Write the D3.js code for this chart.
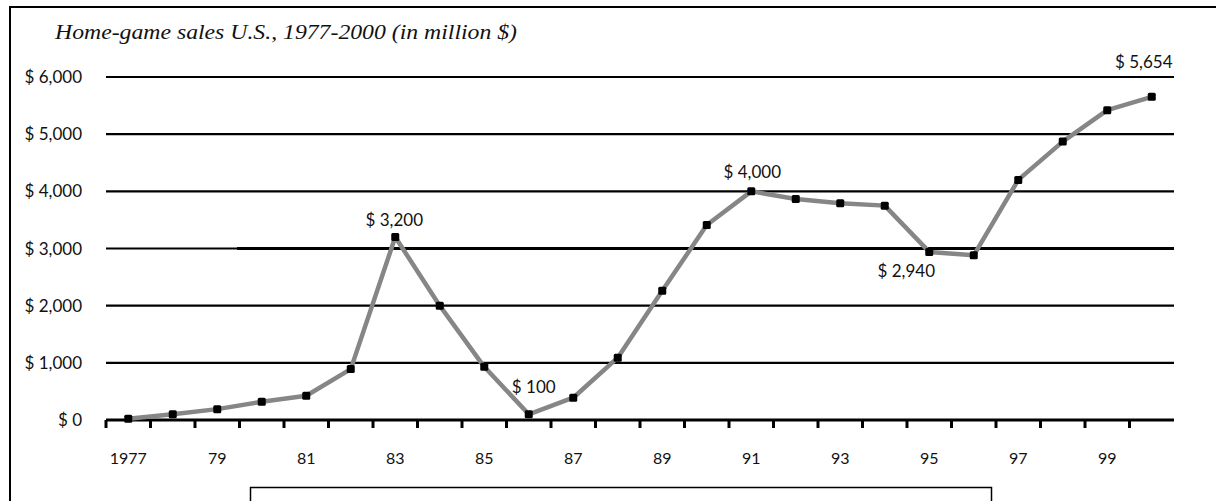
<!DOCTYPE html>
<html>
<head>
<meta charset="utf-8">
<script src="https://cdn.jsdelivr.net/npm/d3@7"></script>
<style>
  html, body { margin: 0; padding: 0; background: #fff; }
  svg { display: block; }
</style>
</head>
<body>
<svg id="chart" width="1216" height="501"></svg>
<script>
// Home-game sales in the U.S., million dollars
const years = d3.range(1977, 2001);
const sales = [20, 100, 190, 320, 425, 890, 3200, 2000, 930, 100, 390, 1090,
               2260, 3410, 4000, 3865, 3790, 3750, 2940, 2880, 4200, 4870, 5420, 5654];
const yTicks = [0, 1000, 2000, 3000, 4000, 5000, 6000];
const xTickLabels = ["1977", "79", "81", "83", "85", "87", "89", "91", "93", "95", "97", "99"];
const callouts = [
  { year: 1983, text: "$ 3,200", dx: -1, dy: -11 },
  { year: 1986, text: "$ 100", dx: 5, dy: -21 },
  { year: 1991, text: "$ 4,000", dx: 1, dy: -13 },
  { year: 1995, text: "$ 2,940", dx: -23, dy: 25 },
  { year: 2000, text: "$ 5,654", dx: -8, dy: -29 }
];

const svg = d3.select("#chart");
const sansFont = "Lato, 'Open Sans', sans-serif";

const x = d3.scaleBand().domain(years).range([106, 1174]).paddingInner(0).paddingOuter(0);
const y = d3.scaleLinear().domain([0, 6000]).range([420, 77]);
const cx = d => x(d) + x.bandwidth() / 2;

// frame: top and left rules
svg.append("line").attr("x1", 10).attr("x2", 1216).attr("y1", 7).attr("y2", 7)
  .attr("stroke", "#000").attr("stroke-width", 2);
svg.append("line").attr("x1", 10).attr("x2", 10).attr("y1", 6).attr("y2", 501)
  .attr("stroke", "#000").attr("stroke-width", 2);

// empty caption box at the bottom
svg.append("rect").attr("x", 250.5).attr("y", 487.5).attr("width", 741).attr("height", 30)
  .attr("fill", "none").attr("stroke", "#000").attr("stroke-width", 1.5);

// title
svg.append("text").attr("x", 55).attr("y", 39)
  .attr("font-family", "'Liberation Serif', 'Times New Roman', serif")
  .attr("font-style", "italic").attr("font-size", 21).attr("fill", "#111")
  .attr("textLength", 462).attr("lengthAdjust", "spacingAndGlyphs")
  .text("Home-game sales U.S., 1977-2000 (in million $)");

// horizontal gridlines
const [x0, x1] = x.range();
svg.append("g").selectAll("line").data(yTicks.filter(v => v > 0)).join("line")
  .attr("x1", x0).attr("x2", x1)
  .attr("y1", d => y(d)).attr("y2", d => y(d))
  .attr("stroke", "#000").attr("stroke-width", 2.2);
// heavier stretch on the $3,000 rule
svg.append("line").attr("x1", 237).attr("x2", x1)
  .attr("y1", y(3000)).attr("y2", y(3000))
  .attr("stroke", "#000").attr("stroke-width", 3);

// y labels
svg.append("g").selectAll("text").data(yTicks).join("text")
  .attr("x", 82).attr("y", d => y(d)).attr("dy", "0.36em")
  .attr("text-anchor", "end")
  .attr("font-family", sansFont).attr("font-size", 17).attr("fill", "#111")
  .text(d => "$ " + d3.format(",")(d));

// x axis baseline with downward ticks at band boundaries
svg.append("line").attr("x1", x0).attr("x2", x1).attr("y1", y(0)).attr("y2", y(0))
  .attr("stroke", "#000").attr("stroke-width", 3.2);
svg.append("g").selectAll("line").data(years).join("line")
  .attr("x1", d => x(d)).attr("x2", d => x(d))
  .attr("y1", y(0)).attr("y2", y(0) + 8)
  .attr("stroke", "#000").attr("stroke-width", 3);

// x labels on odd years
const labelYears = years.filter((d, i) => i % 2 === 0 && d < 2000);
svg.append("g").selectAll("text").data(labelYears).join("text")
  .attr("x", d => cx(d)).attr("y", 464)
  .attr("text-anchor", "middle")
  .attr("font-family", sansFont).attr("font-size", 16).attr("fill", "#111")
  .text((d, i) => xTickLabels[i]);

// sales line
const pts = years.map((yr, i) => ({ year: yr, value: sales[i] }));
svg.append("path").datum(pts)
  .attr("fill", "none").attr("stroke", "#868686").attr("stroke-width", 4.5)
  .attr("stroke-linejoin", "round")
  .attr("d", d3.line().x(d => cx(d.year)).y(d => y(d.value)));

// markers
svg.append("g").selectAll("rect").data(pts).join("rect")
  .attr("x", d => cx(d.year) - 4).attr("y", d => y(d.value) - 4)
  .attr("width", 8).attr("height", 8).attr("rx", 1.5)
  .attr("fill", "#000");

// value callouts
svg.append("g").selectAll("text").data(callouts).join("text")
  .attr("x", d => cx(d.year) + d.dx)
  .attr("y", d => y(sales[years.indexOf(d.year)]) + d.dy)
  .attr("text-anchor", "middle")
  .attr("font-family", sansFont).attr("font-size", 17).attr("fill", "#111")
  .text(d => d.text);
</script>
</body>
</html>
